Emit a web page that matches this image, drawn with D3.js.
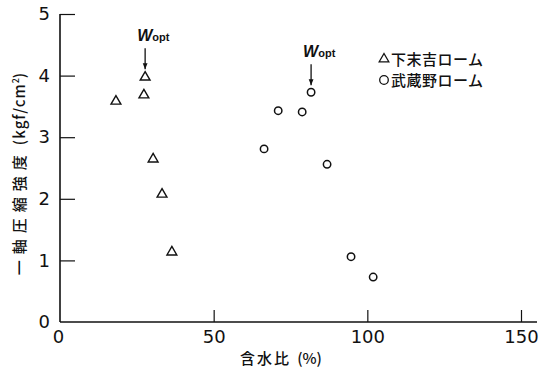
<!DOCTYPE html>
<html>
<head>
<meta charset="utf-8">
<script src="https://cdn.jsdelivr.net/npm/d3@7"></script>
<style>
  body { margin: 0; background: #fff; }
  svg { display: block; }
  text { fill: #111; }
</style>
</head>
<body>
<svg id="chart" width="543" height="370"></svg>
<script>
// 含水比 (%) と一軸圧縮強度 (kgf/cm²)
const seriesNames = ["下末吉ローム", "武蔵野ローム"];
const shimosueyoshiW = [18.2, 27.3, 27.7, 30.3, 33.2, 36.4];
const shimosueyoshiQ = [3.60, 3.70, 3.99, 2.66, 2.09, 1.15];
const musashinoW = [66.4, 71.0, 78.8, 81.7, 86.9, 94.7, 101.9];
const musashinoQ = [2.81, 3.43, 3.41, 3.73, 2.56, 1.06, 0.73];
const xTicks = [0, 50, 100, 150];
const yTicks = [0, 1, 2, 3, 4, 5];
// optimum water content markers: [w, q] of the point each arrow indicates
const woptPoints = [[27.7, 3.99], [81.7, 3.73]];

const svg = d3.select("#chart");
const x = d3.scaleLinear().domain([0, 150]).range([60, 521]);
const y = d3.scaleLinear().domain([0, 5]).range([322, 14]);
const ink = "#111";
const numFont = "'DejaVu Sans', sans-serif";
const cjkFont = "'Noto Sans CJK JP', sans-serif";

// y axis (ticks point inward)
const yAxis = svg.append("g").attr("transform", `translate(${x(0)},0)`)
  .call(d3.axisLeft(y).tickValues(yTicks).tickFormat(d3.format("d"))
    .tickSizeInner(-15).tickSizeOuter(0).tickPadding(12));
yAxis.select(".domain").remove();
yAxis.selectAll(".tick line").attr("stroke", ink).attr("stroke-width", 1.2)
  .filter(d => d === 0).remove();
yAxis.selectAll(".tick text").attr("font-family", numFont).attr("font-size", 18)
  .attr("fill", ink).attr("x", -10);

// x axis (ticks point inward)
const xAxis = svg.append("g").attr("transform", `translate(0,${y(0)})`)
  .call(d3.axisBottom(x).tickValues(xTicks).tickFormat(d3.format("d"))
    .tickSizeInner(-12).tickSizeOuter(0).tickPadding(8));
xAxis.select(".domain").remove();
xAxis.selectAll(".tick line").attr("stroke", ink).attr("stroke-width", 1.2)
  .filter(d => d === 0).remove();
xAxis.selectAll(".tick text").attr("font-family", numFont).attr("font-size", 18)
  .attr("fill", ink);
xAxis.selectAll(".tick text").filter(d => d === 0).attr("x", -2);

// axis frame lines
svg.append("line").attr("x1", x(0)).attr("x2", x(0)).attr("y1", y(5)).attr("y2", y(0))
  .attr("stroke", ink).attr("stroke-width", 1.6);
svg.append("line").attr("x1", x(0)).attr("x2", 537).attr("y1", y(0)).attr("y2", y(0))
  .attr("stroke", ink).attr("stroke-width", 1.6);

// axis titles
svg.append("text").attr("x", 281).attr("y", 364).attr("text-anchor", "middle")
  .attr("font-family", cjkFont).attr("font-size", 15).attr("font-weight", 500)
  .call(t => {
    t.append("tspan").attr("letter-spacing", 2).text("含水比");
    t.append("tspan").attr("dx", 6).text("(%)");
  });

svg.append("text").attr("transform", "translate(25,174) rotate(-90)")
  .attr("text-anchor", "middle").attr("font-family", cjkFont).attr("font-size", 15)
  .attr("font-weight", 500)
  .call(t => {
    t.append("tspan").attr("letter-spacing", 6).text("一軸圧縮強度");
    t.append("tspan").attr("dx", 4).attr("letter-spacing", 1).text("(kgf/cm");
    t.append("tspan").attr("font-size", 9).attr("dy", -6).text("2");
    t.append("tspan").attr("dy", 6).text(")");
  });

// markers
const tri = d3.symbol().type(d3.symbolTriangle).size(42);
svg.append("g").selectAll("path").data(d3.zip(shimosueyoshiW, shimosueyoshiQ)).join("path")
  .attr("d", tri).attr("transform", d => `translate(${x(d[0])},${y(d[1]) + 1})`)
  .attr("fill", "none").attr("stroke", ink).attr("stroke-width", 1.4);

svg.append("g").selectAll("circle").data(d3.zip(musashinoW, musashinoQ)).join("circle")
  .attr("cx", d => x(d[0])).attr("cy", d => y(d[1])).attr("r", 3.7)
  .attr("fill", "none").attr("stroke", ink).attr("stroke-width", 1.5);

// Wopt arrows and labels
svg.append("defs").append("marker").attr("id", "head")
  .attr("viewBox", "0 0 10 10").attr("refX", 10).attr("refY", 5)
  .attr("markerWidth", 6).attr("markerHeight", 6).attr("orient", "auto")
  .attr("markerUnits", "userSpaceOnUse")
  .append("path").attr("d", "M0,1 L10,5 L0,9 Z").attr("fill", ink);

const wopt = svg.append("g").selectAll("g").data(woptPoints).join("g")
  .attr("transform", d => `translate(${x(d[0])},${y(d[1])})`);
wopt.append("line").attr("x1", 0).attr("x2", 0).attr("y1", -28).attr("y2", -7)
  .attr("stroke", ink).attr("stroke-width", 1.3).attr("marker-end", "url(#head)");
wopt.append("text").attr("x", -8).attr("y", -35).attr("font-family", "'Liberation Sans', sans-serif")
  .attr("font-weight", "bold")
  .call(t => {
    t.append("tspan").attr("font-style", "italic").attr("font-size", 16).attr("letter-spacing", -1).text("W");
    t.append("tspan").attr("font-size", 11).attr("dx", 1).text("opt");
  });

// legend
const legend = svg.append("g").attr("font-family", cjkFont).attr("font-size", 15)
  .attr("font-weight", 500);
const legendRows = [{ name: seriesNames[0], y: 59 }, { name: seriesNames[1], y: 80 }];
legend.append("path").attr("d", d3.symbol().type(d3.symbolTriangle).size(40))
  .attr("transform", `translate(384,${legendRows[0].y})`)
  .attr("fill", "none").attr("stroke", ink).attr("stroke-width", 1.3);
legend.append("circle").attr("cx", 384).attr("cy", legendRows[1].y).attr("r", 4.3)
  .attr("fill", "none").attr("stroke", ink).attr("stroke-width", 1.3);
legend.selectAll("text").data(legendRows).join("text")
  .attr("x", 391).attr("y", d => d.y + 5.5).attr("letter-spacing", 0.5).text(d => d.name);
</script>
</body>
</html>
